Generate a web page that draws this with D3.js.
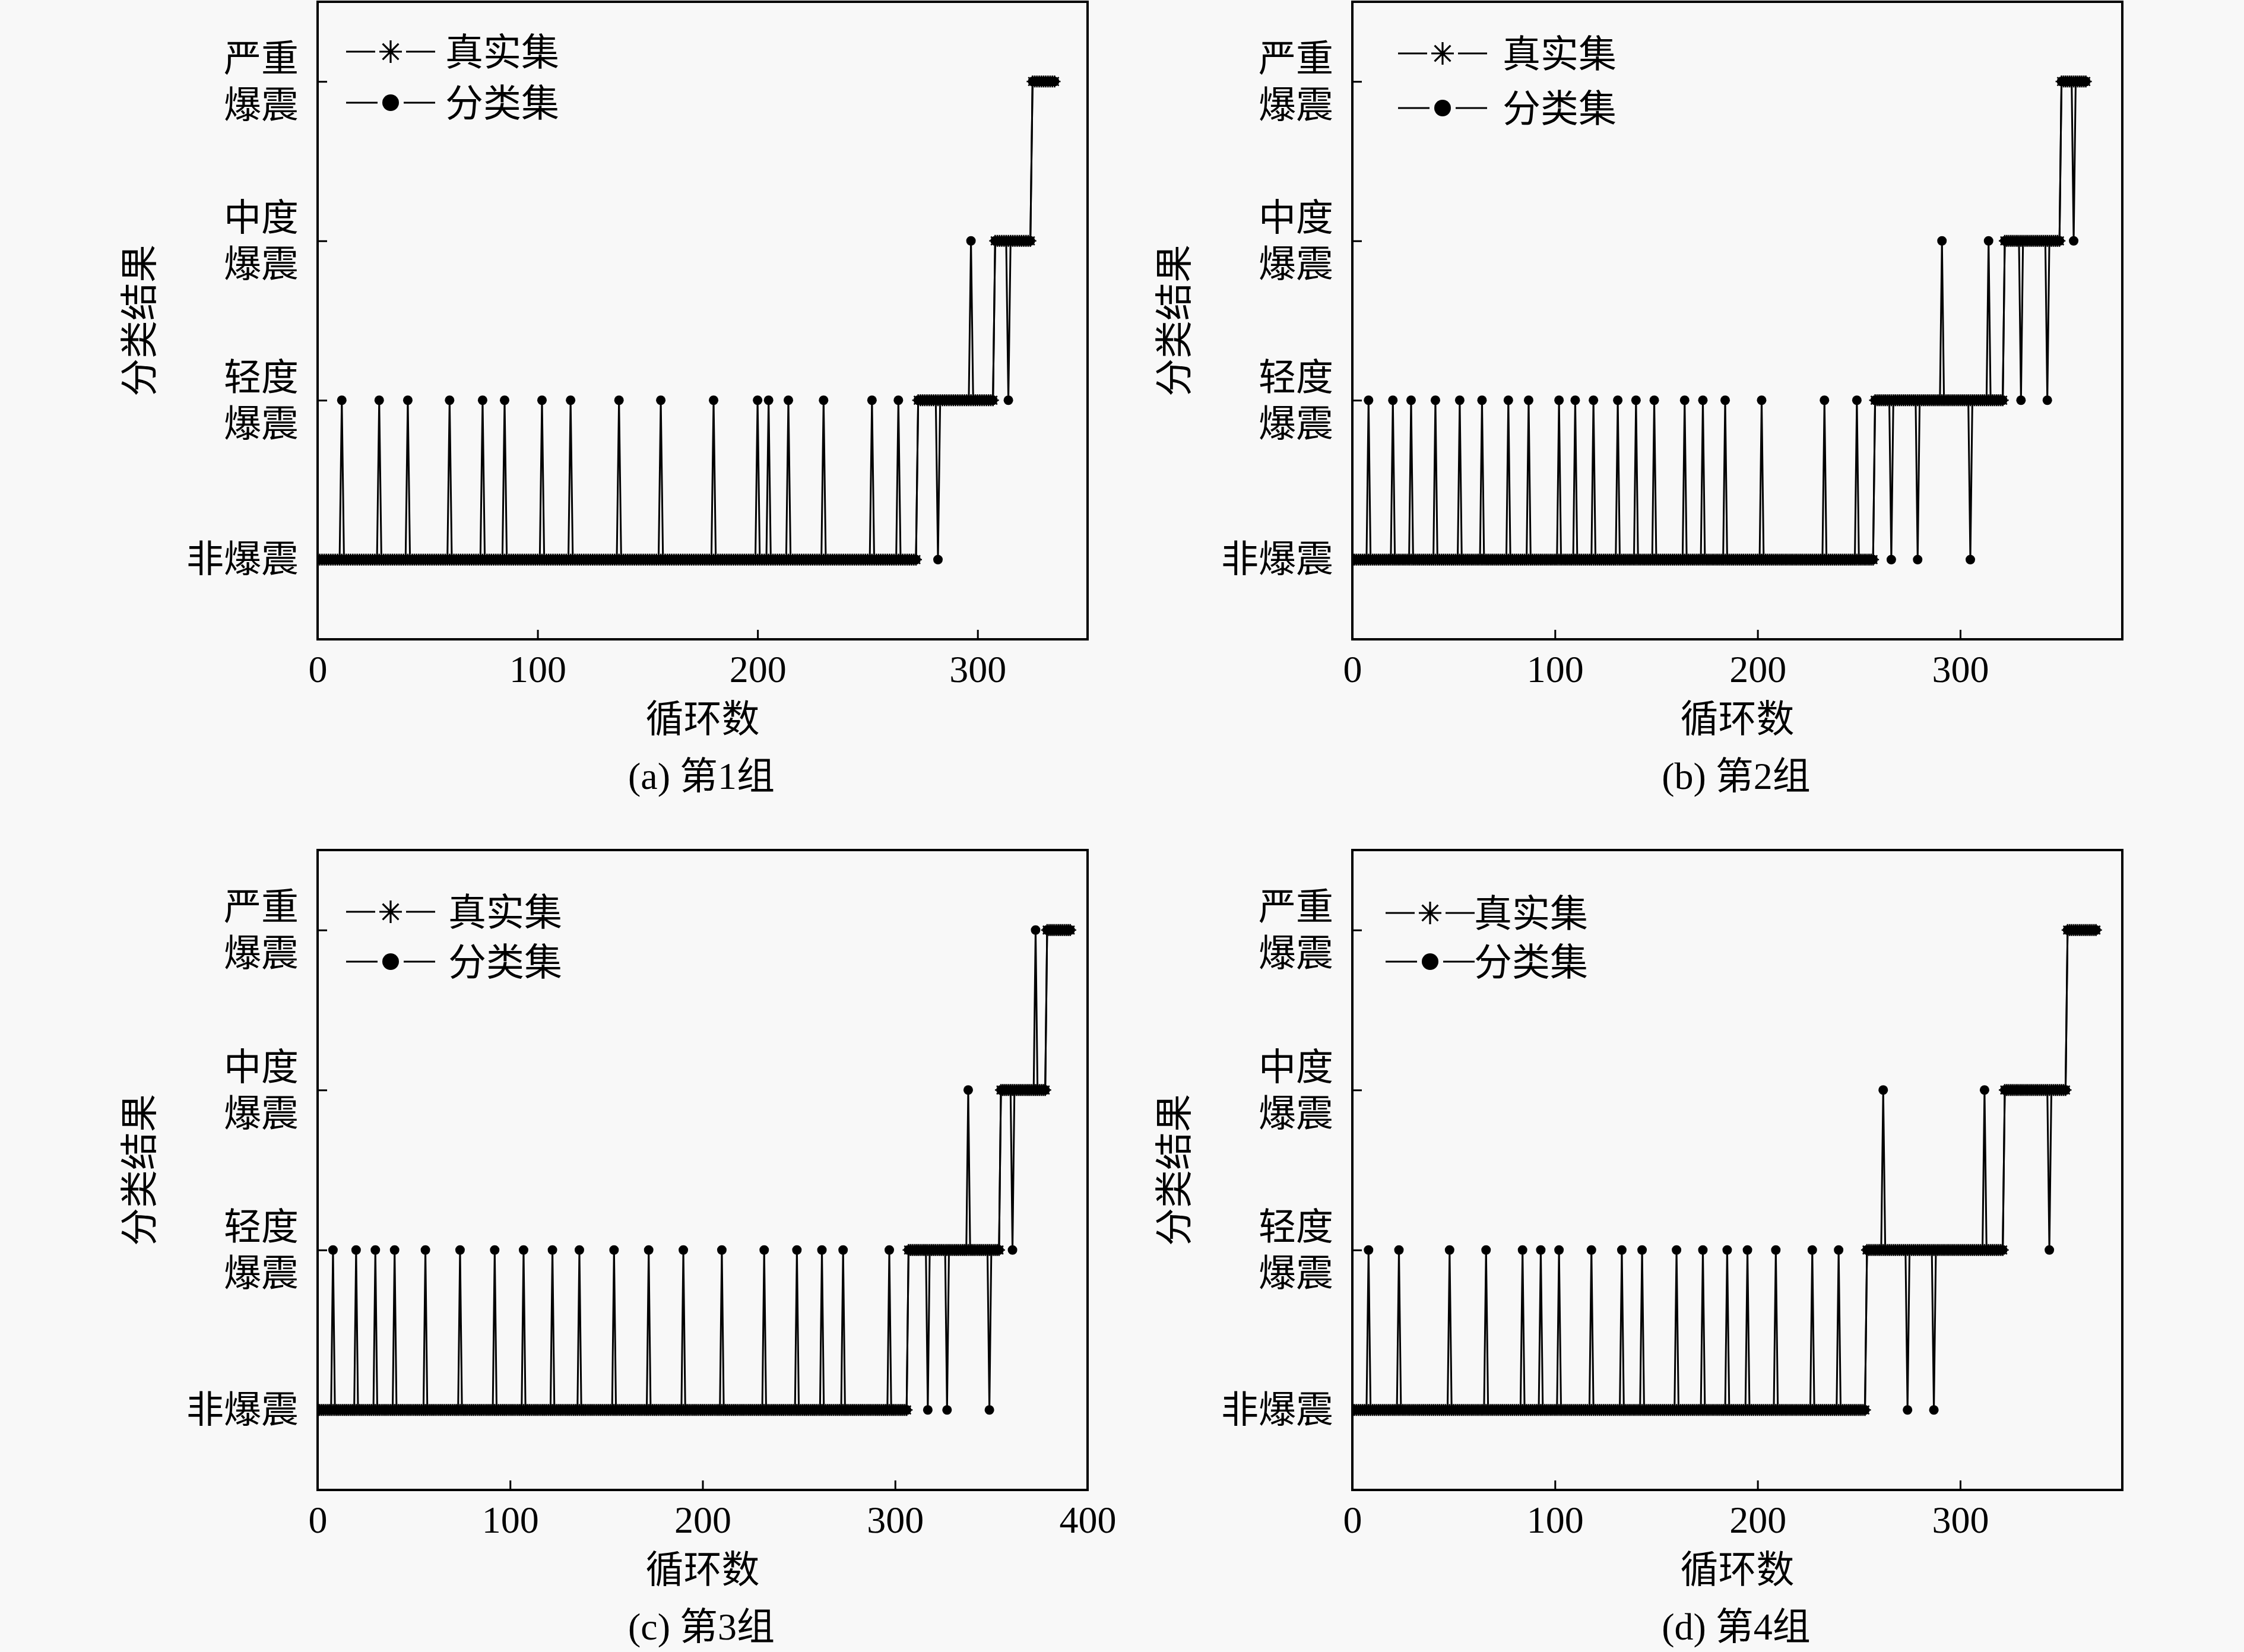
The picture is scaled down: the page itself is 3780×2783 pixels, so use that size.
<!DOCTYPE html>
<html>
<head>
<meta charset="utf-8">
<script src="https://cdn.jsdelivr.net/npm/d3@7/dist/d3.min.js"></script>
<style>
html,body{margin:0;padding:0;background:#f8f8f8;}
svg{display:block;}
</style>
</head>
<body>
<svg id="chart" width="3780" height="2783"></svg>
<script>
// ---------------- data ----------------
const levelLabels = [["非爆震"], ["轻度", "爆震"], ["中度", "爆震"], ["严重", "爆震"]];
const seriesNames = ["真实集", "分类集"];
const xAxisTitle = "循环数";
const yAxisTitle = "分类结果";
const panelCaptions = ["(a) 第1组", "(b) 第2组", "(c) 第3组", "(d) 第4组"];
const xMaxes = [350, 380, 400, 380];
const xTicksA = [0, 100, 200, 300];
const xTicksB = [0, 100, 200, 300];
const xTicksC = [0, 100, 200, 300, 400];
const xTicksD = [0, 100, 200, 300];

// true set: runs of [first cycle, last cycle, level]
const trueRunsA = [[0, 272, 0], [273, 307, 1], [308, 324, 2], [325, 335, 3]];
const trueRunsB = [[0, 257, 0], [258, 321, 1], [322, 349, 2], [350, 362, 3]];
const trueRunsC = [[0, 306, 0], [307, 354, 1], [355, 378, 2], [379, 391, 3]];
const trueRunsD = [[0, 253, 0], [254, 321, 1], [322, 352, 2], [353, 367, 3]];

// classified set: cycles where it differs from the true set [cycle, level]
const classDiffA = [[11,1],[28,1],[41,1],[60,1],[75,1],[85,1],[102,1],[115,1],[137,1],[156,1],
  [180,1],[200,1],[205,1],[214,1],[230,1],[252,1],[264,1],[282,0],[297,2],[314,1]];
const classDiffB = [[8,1],[20,1],[29,1],[41,1],[53,1],[64,1],[77,1],[87,1],[102,1],[110,1],
  [119,1],[131,1],[140,1],[149,1],[164,1],[173,1],[184,1],[202,1],[233,1],[249,1],
  [266,0],[279,0],[291,2],[305,0],[314,2],[330,1],[343,1],[356,2]];
const classDiffC = [[8,1],[20,1],[30,1],[40,1],[56,1],[74,1],[92,1],[107,1],[122,1],[136,1],
  [154,1],[172,1],[190,1],[210,1],[232,1],[249,1],[262,1],[273,1],[297,1],
  [317,0],[327,0],[338,2],[349,0],[361,1],[373,3]];
const classDiffD = [[8,1],[23,1],[48,1],[66,1],[84,1],[93,1],[102,1],[118,1],[133,1],[143,1],
  [160,1],[173,1],[185,1],[195,1],[209,1],[227,1],[240,1],
  [262,2],[274,0],[287,0],[312,2],[344,1]];

// ---------------- layout ----------------
const panels = [
  {left: 535,  top: 3,    w: 1297, h: 1074, runs: trueRunsA, diff: classDiffA, ticks: xTicksA, leg: {lx: 48, tx: 215, r0: 84,  r1: 170}},
  {left: 2278, top: 3,    w: 1297, h: 1074, runs: trueRunsB, diff: classDiffB, ticks: xTicksB, leg: {lx: 77, tx: 253, r0: 87,  r1: 179}},
  {left: 535,  top: 1432, w: 1297, h: 1078, runs: trueRunsC, diff: classDiffC, ticks: xTicksC, leg: {lx: 48, tx: 220, r0: 104, r1: 188}},
  {left: 2278, top: 1432, w: 1297, h: 1078, runs: trueRunsD, diff: classDiffD, ticks: xTicksD, leg: {lx: 56, tx: 205, r0: 106, r1: 188}}
];

const FONT = "'Liberation Serif','Times New Roman','Noto Sans CJK SC',serif";
const svg = d3.select("#chart");
svg.append("rect").attr("width", 3780).attr("height", 2783).attr("fill", "#f8f8f8");

function expand(runs) {
  const pts = [];
  runs.forEach(([a, b, l]) => { for (let c = a; c <= b; c++) pts.push({c, l}); });
  return pts;
}
function asteriskPath(r) {
  const k = r * 0.7071;
  return `M${-r},0L${r},0M0,${-r}L0,${r}M${-k},${-k}L${k},${k}M${-k},${k}L${k},${-k}`;
}

panels.forEach((p, i) => {
  const x = d3.scaleLinear().domain([0, xMaxes[i]]).range([0, p.w]);
  const y = d3.scaleLinear().domain([-0.5, 3.5]).range([p.h, 0]);
  const g = svg.append("g").attr("transform", `translate(${p.left},${p.top})`);

  const truePts = expand(p.runs);
  const diffMap = new Map(p.diff.map(d => [d[0], d[1]]));
  const classPts = truePts.map(d => ({c: d.c, l: diffMap.has(d.c) ? diffMap.get(d.c) : d.l}));

  const clipId = "clip" + i;
  g.append("clipPath").attr("id", clipId).append("rect").attr("width", p.w).attr("height", p.h);
  const plot = g.append("g").attr("clip-path", `url(#${clipId})`);

  const line = d3.line().x(d => x(d.c)).y(d => y(d.l));
  plot.append("path").datum(truePts).attr("d", line)
    .attr("fill", "none").attr("stroke", "#000").attr("stroke-width", 3);
  plot.append("path").datum(classPts).attr("d", line)
    .attr("fill", "none").attr("stroke", "#000").attr("stroke-width", 3);

  const ast = asteriskPath(10);
  plot.append("g").selectAll("path").data(truePts).join("path")
    .attr("transform", d => `translate(${x(d.c)},${y(d.l)})`)
    .attr("d", ast).attr("fill", "none").attr("stroke", "#000").attr("stroke-width", 2.6);
  plot.append("g").selectAll("circle").data(classPts).join("circle")
    .attr("cx", d => x(d.c)).attr("cy", d => y(d.l)).attr("r", 8).attr("fill", "#000");

  // axes
  const xAxis = d3.axisBottom(x).tickValues(p.ticks).tickSizeInner(-16).tickSizeOuter(0)
    .tickPadding(27).tickFormat(d3.format("d"));
  g.append("g").attr("transform", `translate(0,${p.h})`).call(xAxis)
    .call(s => s.select(".domain").remove())
    .call(s => s.selectAll("line").attr("stroke", "#000").attr("stroke-width", 3))
    .call(s => s.selectAll("text").attr("font-family", FONT).attr("font-size", 64).attr("fill", "#000"));

  const yAxis = d3.axisLeft(y).tickValues([0, 1, 2, 3]).tickSizeInner(-16).tickSizeOuter(0)
    .tickPadding(32).tickFormat(() => "");
  g.append("g").call(yAxis)
    .call(s => s.select(".domain").remove())
    .call(s => s.selectAll("line").attr("stroke", "#000").attr("stroke-width", 3))
    .call(s => s.selectAll(".tick text").each(function(d) {
      const t = d3.select(this).attr("dy", null).attr("y", null)
        .attr("font-family", FONT).attr("font-size", 63).attr("fill", "#000");
      const lines = levelLabels[d];
      if (lines.length === 1) {
        t.append("tspan").attr("x", -32).attr("y", 20).text(lines[0]);
      } else {
        t.append("tspan").attr("x", -32).attr("y", -18).text(lines[0]);
        t.append("tspan").attr("x", -32).attr("y", 60).text(lines[1]);
      }
    }));

  // frame
  g.append("rect").attr("width", p.w).attr("height", p.h)
    .attr("fill", "none").attr("stroke", "#000").attr("stroke-width", 4);

  // axis titles and caption
  g.append("text").attr("x", p.w / 2).attr("y", p.h + 156).attr("text-anchor", "middle")
    .attr("font-family", FONT).attr("font-size", 64).attr("fill", "#000").text(xAxisTitle);
  g.append("text").attr("transform", `translate(${-301},${p.h / 2}) rotate(-90)`)
    .attr("text-anchor", "middle").attr("dy", "0.36em")
    .attr("font-family", FONT).attr("font-size", 64).attr("fill", "#000").text(yAxisTitle);
  g.append("text").attr("x", p.w / 2 - 2).attr("y", p.h + 252).attr("text-anchor", "middle")
    .attr("font-family", FONT).attr("font-size", 64).attr("fill", "#000").text(panelCaptions[i]);

  // legend
  const L = p.leg;
  const rows = [L.r0, L.r1];
  rows.forEach((ry, k) => {
    const lg = g.append("g").attr("transform", `translate(${L.lx},${ry})`);
    const mx = 75, gap = k === 0 ? 26 : 22;
    lg.append("line").attr("x1", 0).attr("x2", mx - gap).attr("stroke", "#000").attr("stroke-width", 3);
    lg.append("line").attr("x1", mx + gap).attr("x2", 150).attr("stroke", "#000").attr("stroke-width", 3);
    if (k === 0) {
      lg.append("path").attr("transform", `translate(${mx},0)`).attr("d", asteriskPath(19))
        .attr("fill", "none").attr("stroke", "#000").attr("stroke-width", 3.2);
    } else {
      lg.append("circle").attr("cx", mx).attr("cy", 0).attr("r", 14).attr("fill", "#000");
    }
    g.append("text").attr("x", L.tx).attr("y", ry + 23)
      .attr("font-family", FONT).attr("font-size", 64).attr("fill", "#000").text(seriesNames[k]);
  });
});
</script>
</body>
</html>
